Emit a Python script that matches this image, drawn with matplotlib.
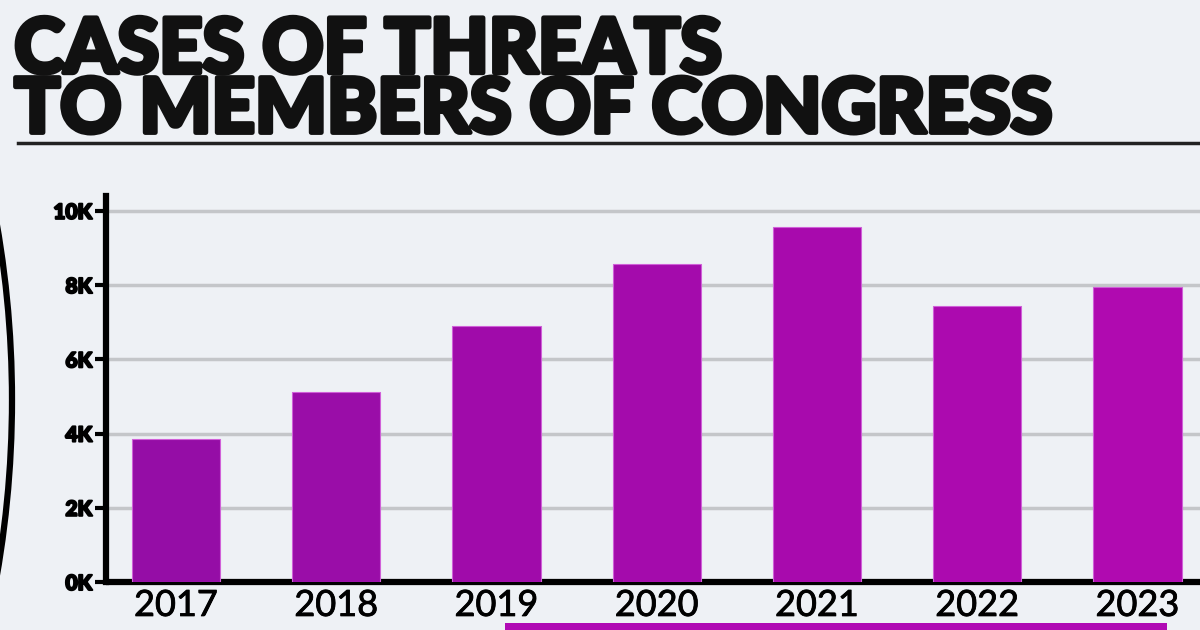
import matplotlib.pyplot as plt
import matplotlib.patheffects as pe
from matplotlib.patches import Circle, Rectangle

anos = ["2017", "2018", "2019", "2020", "2021", "2022", "2023"]
casos = [3850, 5120, 6900, 8570, 9570, 7440, 7950]
ticks_y = [0, 2000, 4000, 6000, 8000, 10000]
rotulos_y = ["0K", "2K", "4K", "6K", "8K", "10K"]

cores = ["#950DA6", "#9A0DA8", "#A00BAA", "#A40BAC", "#A80AAD", "#AC0AAF", "#B00AB0"]
fundo = "#EEF1F5"

fig = plt.figure(figsize=(12, 6.3), dpi=100, facecolor=fundo)

# titulo (Lato Bold engrossado com contorno)
fig.text(0.012, 0.975, "CASES OF THREATS\nTO MEMBERS OF CONGRESS",
         ha="left", va="top", fontsize=54.5, fontweight="black",
         family="Lato", color="#111111", linespacing=0.82,
         path_effects=[pe.withStroke(linewidth=3.5, foreground="#111111")])
fig.add_artist(plt.Line2D([18 / 1200, 1.0], [1 - 143 / 630] * 2,
                          color="#222222", linewidth=2.5,
                          transform=fig.transFigure))

# arco a esquerda e faixa magenta embaixo
fig.add_artist(Circle((-1016, 230), 1028, fill=False, edgecolor="black",
                      linewidth=4.5, transform=None))
fig.add_artist(Rectangle((505 / 1200, 0), 662 / 1200, 7 / 630,
                         facecolor="#B00AB4", edgecolor="none",
                         transform=fig.transFigure))

ax = fig.add_axes([106 / 1200, 48 / 630, 1094 / 1200, 386 / 630])
ax.set_facecolor("none")

x = range(len(anos))
ax.bar(x, casos, width=0.55, color=cores, edgecolor="#D060D8",
       linewidth=0.8, zorder=3)

ax.set_xlim(-0.437, 6.39)
ax.set_ylim(0, 10400)
ax.set_yticks(ticks_y)
ax.set_yticklabels(rotulos_y, fontsize=15, fontweight="black", family="Lato")
for rotulo in ax.get_yticklabels():
    rotulo.set_path_effects([pe.withStroke(linewidth=1.5, foreground="black")])
ax.set_xticks(list(x))
ax.set_xticklabels(anos, fontsize=26, family="Lato")
for rotulo in ax.get_xticklabels():
    rotulo.set_path_effects([pe.withStroke(linewidth=0.6, foreground="black")])

ax.yaxis.grid(True, color="#C4C6C9", linewidth=2.5, zorder=0)
ax.set_axisbelow(True)

for lado in ["top", "right"]:
    ax.spines[lado].set_visible(False)
ax.spines["left"].set_linewidth(4.5)
ax.spines["bottom"].set_linewidth(4.5)
ax.spines["bottom"].set_capstyle("butt")

ax.tick_params(axis="y", length=8, width=3, pad=2, color="black")
ax.tick_params(axis="x", length=0, pad=5)

plt.savefig("out.png", dpi=100, facecolor=fundo)
plt.close()
